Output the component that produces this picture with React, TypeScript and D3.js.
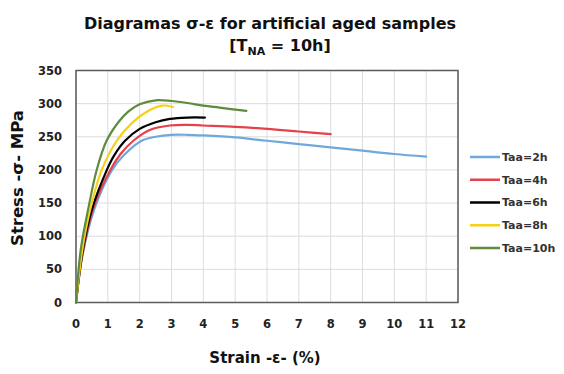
import React from "react";
import * as d3 from "d3";

const xTicks = [0, 1, 2, 3, 4, 5, 6, 7, 8, 9, 10, 11, 12];
const yTicks = [0, 50, 100, 150, 200, 250, 300, 350];

const seriesNames = ["Taa=2h", "Taa=4h", "Taa=6h", "Taa=8h", "Taa=10h"];
const seriesColors = ["#6fa8dc", "#e5414b", "#000000", "#f7d117", "#5e8b3c"];

const strain2h = [0, 0.2, 0.57, 1.12, 1.5, 2.06, 2.5, 3, 3.5, 4, 5, 6, 7, 8, 9, 10, 11];
const stress2h = [0, 70, 140, 199, 222, 244, 250, 253, 253, 252, 249, 244, 239, 234, 229, 224, 220];

const strain4h = [0, 0.2, 0.55, 1.07, 1.4, 1.8, 2.3, 2.95, 3.5, 4, 5, 6, 7, 8];
const stress4h = [0, 72, 143, 199, 224, 244, 260, 267, 268, 267, 265, 262, 258, 254];

const strain6h = [0, 0.2, 0.49, 0.96, 1.2, 1.54, 2, 2.5, 2.95, 3.5, 4.05];
const stress6h = [0, 75, 139, 199, 222, 244, 262, 272, 277, 279, 279];

const strain8h = [0, 0.2, 0.44, 0.8, 1.28, 1.7, 2.2, 2.7, 3.05];
const stress8h = [0, 80, 139, 199, 244, 268, 287, 297, 295];

const strain10h = [0, 0.15, 0.4, 0.65, 0.96, 1.33, 1.64, 2.0, 2.5, 3, 3.5, 4, 4.5, 5.35];
const stress10h = [0, 80, 145, 200, 244, 272, 288, 299, 305, 304, 301, 297, 294, 289];

const strains = [strain2h, strain4h, strain6h, strain8h, strain10h];
const stresses = [stress2h, stress4h, stress6h, stress8h, stress10h];

const FONT = "'DejaVu Sans', sans-serif";

export default function App() {
  const W = 564;
  const H = 374;
  const x = d3.scaleLinear().domain([0, 12]).range([76, 458]);
  const y = d3.scaleLinear().domain([0, 350]).range([302.5, 70.5]);
  const line = d3
    .line<[number, number]>()
    .x((d) => x(d[0]))
    .y((d) => y(d[1]))
    .curve(d3.curveCatmullRom.alpha(0.5));

  const legendX0 = 470;
  const legendY = d3.scaleLinear().domain([0, 4]).range([157, 248]);

  return (
    <svg
      width={W}
      height={H}
      style={{ position: "absolute", left: 0, top: 0, background: "#fff" }}
      fontFamily={FONT}
    >
      <rect x={0} y={0} width={W} height={H} fill="#fff" />
      {/* title */}
      <text x={270} y={29} textAnchor="middle" fontSize={16} fontWeight="bold" fill="#111">
        Diagramas σ-ε for artificial aged samples
      </text>
      <text x={280} y={51} textAnchor="middle" fontSize={16} fontWeight="bold" fill="#111">
        [T<tspan fontSize={11} dy={4}>NA</tspan>
        <tspan dy={-4}> = 10h]</tspan>
      </text>

      {/* grid */}
      {xTicks.map((t) => (
        <line key={"gx" + t} x1={x(t)} x2={x(t)} y1={y(350)} y2={y(0)} stroke="#dcdcdc" strokeWidth={1} />
      ))}
      {yTicks.map((t) => (
        <line key={"gy" + t} x1={x(0)} x2={x(12)} y1={y(t)} y2={y(t)} stroke="#dcdcdc" strokeWidth={1} />
      ))}
      <rect
        x={x(0)}
        y={y(350)}
        width={x(12) - x(0)}
        height={y(0) - y(350)}
        fill="none"
        stroke="#5a5a5a"
        strokeWidth={1.5}
      />

      {/* ticks */}
      {yTicks.map((t) => (
        <text key={"ty" + t} x={62} y={y(t)} dy="0.36em" textAnchor="end" fontSize={11.5} fontWeight="bold" fill="#222">
          {t}
        </text>
      ))}
      {xTicks.map((t) => (
        <text key={"tx" + t} x={x(t)} y={324} dy="0.36em" textAnchor="middle" fontSize={11.5} fontWeight="bold" fill="#222">
          {t}
        </text>
      ))}

      {/* axis titles */}
      <text x={265} y={363} textAnchor="middle" fontSize={15} fontWeight="bold" fill="#111">
        Strain -ε- (%)
      </text>
      <text
        transform={`translate(23,178) rotate(-90)`}
        textAnchor="middle"
        fontSize={16.5}
        fontWeight="bold"
        fill="#111"
      >
        Stress -σ- MPa
      </text>

      {/* curves */}
      {strains.map((s, i) => (
        <path
          key={"c" + i}
          d={line(s.map((v, j) => [v, stresses[i][j]] as [number, number])) || ""}
          fill="none"
          stroke={seriesColors[i]}
          strokeWidth={2.2}
          strokeLinejoin="round"
          strokeLinecap="round"
        />
      ))}

      {/* legend */}
      {seriesNames.map((n, i) => (
        <g key={"l" + i}>
          <line
            x1={legendX0}
            x2={legendX0 + 30}
            y1={legendY(i)}
            y2={legendY(i)}
            stroke={seriesColors[i]}
            strokeWidth={2.5}
          />
          <text x={legendX0 + 32} y={legendY(i)} dy="0.36em" fontSize={11} fontWeight="bold" fill="#333">
            {n}
          </text>
        </g>
      ))}
    </svg>
  );
}
